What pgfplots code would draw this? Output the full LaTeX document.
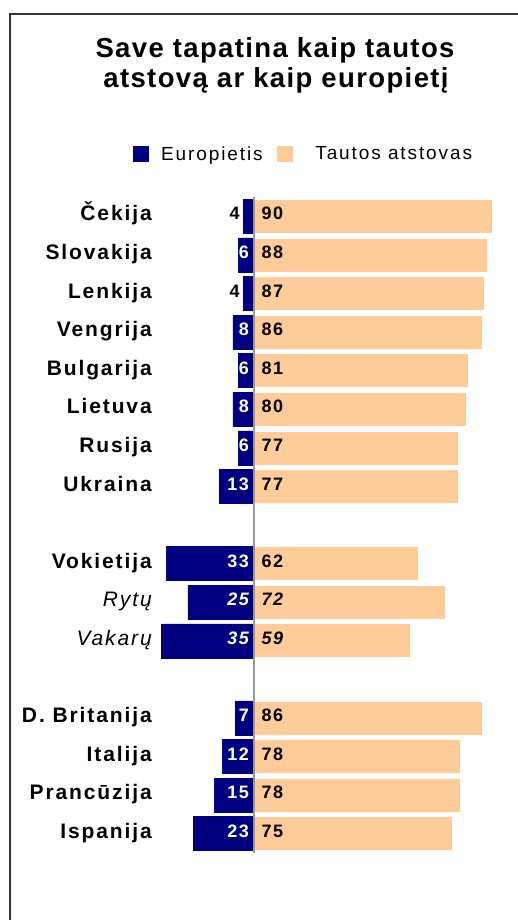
\documentclass[border=0pt]{standalone}
\usepackage{pgfplots}
\pgfplotsset{compat=1.18}
\usepackage{pgfplotstable}
\usepackage{fontspec}
\setmainfont{Liberation Sans}
\newfontfamily\titlefont{Liberation Sans}[LetterSpace=5]
\newfontfamily\catfont{Liberation Sans}[LetterSpace=9]
\newfontfamily\numfont{Liberation Sans}[LetterSpace=8]
\newfontfamily\legfont{Liberation Sans}[LetterSpace=10]

\definecolor{euroblue}{RGB}{0,0,128}
\definecolor{natorange}{RGB}{255,204,153}

% row: position from the top (8 and 12 are gaps)
\pgfplotstableread{
row eu nat
0  4  90
1  6  88
2  4  87
3  8  86
4  6  81
5  8  80
6  6  77
7  13 77
9  33 62
10 25 72
11 35 59
13 7  86
14 12 78
15 15 78
16 23 75
}\shares

\pgfplotsset{
  lbl/.style={mark=none, draw=none, forget plot,
    point meta=explicit, nodes near coords},
}
\tikzset{
  lblfont/.style={font=\numfont\bfseries\fontsize{18}{18}\selectfont, inner sep=0pt, yshift=-3.7pt},
  lblit/.style={font=\numfont\bfseries\itshape\fontsize{18}{18}\selectfont, inner sep=0pt, yshift=-3.7pt},
}

\begin{document}
\begin{tikzpicture}
\useasboundingbox (0,0) rectangle (517pt,920pt);
% frame (only left and top edge are inside the picture)
\draw[black!80, line width=2pt] (10pt,0pt) -- (10pt,906pt) -- (520pt,906pt);
% title
\node[font=\titlefont\bfseries\fontsize{27.5}{30}\selectfont, anchor=base] at (275pt,862pt) {Save tapatina kaip tautos};
\node[font=\titlefont\bfseries\fontsize{27.5}{30}\selectfont, anchor=base] at (276pt,832pt) {atstovą ar kaip europietį};

\begin{axis}[
  at={(155.95pt,67pt)}, anchor=south west,
  scale only axis,
  width=360.4pt, height=656pt,
  xmin=-37, xmax=99,
  ymin=-0.5, ymax=16.5,
  y dir=reverse,
  axis line style={draw=none},
  xtick=\empty,
  extra x ticks={0},
  extra x tick labels={},
  extra x tick style={grid=major, major grid style={draw=black!40, line width=1.2pt}, major tick length=0pt},
  ytick={0,1,2,3,4,5,6,7,9,10,11,13,14,15,16},
  yticklabels={Čekija, Slovakija, Lenkija, Vengrija, Bulgarija, Lietuva, Rusija, Ukraina,
    Vokietija, {\mdseries\itshape Rytų}, {\mdseries\itshape Vakarų},
    D. Britanija, Italija, Prancūzija, Ispanija},
  major tick length=0pt,
  yticklabel style={font=\catfont\bfseries\fontsize{21}{21}\selectfont, anchor=base east, inner sep=0pt, xshift=-4pt, yshift=-4.7pt},
  /pgf/number format/assume math mode=true,
  axis on top,
  clip=false,
  legend style={at={(axis description cs:-0.0651,1.0655)}, anchor=west, draw=none, fill=none,
    inner sep=0pt, legend columns=2,
    font=\legfont\fontsize{19}{19}\selectfont,
    /tikz/every odd column/.append style={column sep=11pt},
    /tikz/every even column/.append style={column sep=12pt}},
]
\addplot[xbar, bar width=34pt, bar shift=0pt, fill=euroblue, draw=euroblue, line width=0.5pt,
  legend image code/.code={\fill[euroblue] (0pt,-7.5pt) rectangle (15pt,7.5pt);}]
  table[x expr=-\thisrow{eu}, y=row]{\shares};
\addlegendentry{Europietis}
\addplot[xbar, bar width=34pt, bar shift=0pt, fill=natorange, draw=white, line width=0.6pt,
  legend image code/.code={\fill[natorange] (0pt,-7.5pt) rectangle (15pt,7.5pt);}]
  table[x=nat, y=row]{\shares};
\addlegendentry{\hspace{10pt}Tautos atstovas}

% value labels inside the blue bars
\addplot[lbl, every node near coord/.style={lblfont, text=white, anchor=base east, xshift=-5pt},
  skip coords between index={0}{1}, skip coords between index={2}{3}, skip coords between index={9}{11}]
  table[x expr=0, y=row, meta=eu]{\shares};
\addplot[lbl, every node near coord/.style={lblit, text=white, anchor=base east, xshift=-5pt},
  skip coords between index={0}{9}, skip coords between index={11}{15}]
  table[x expr=0, y=row, meta=eu]{\shares};
% small blue values outside the bar
\addplot[lbl, every node near coord/.style={lblfont, text=black, anchor=base east, xshift=-3.5pt},
  skip coords between index={1}{2}, skip coords between index={3}{15}]
  table[x expr=-\thisrow{eu}, y=row, meta=eu]{\shares};
% values on the orange bars
\addplot[lbl, every node near coord/.style={lblfont, text=black, anchor=base west, xshift=7.5pt},
  skip coords between index={9}{11}]
  table[x expr=0, y=row, meta=nat]{\shares};
\addplot[lbl, every node near coord/.style={lblit, text=black, anchor=base west, xshift=7.5pt},
  skip coords between index={0}{9}, skip coords between index={11}{15}]
  table[x expr=0, y=row, meta=nat]{\shares};
\end{axis}
\end{tikzpicture}
\end{document}
